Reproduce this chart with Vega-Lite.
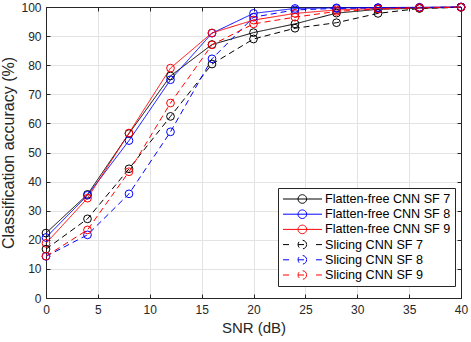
{
  "$schema": "https://vega.github.io/schema/vega-lite/v6.json",
  "width": 415,
  "height": 291,
  "autosize": "none",
  "padding": {"left": 46, "top": 7, "right": 10, "bottom": 44},
  "background": "white",
  "datasets": {
    "acc": [
      {"snr": 0, "acc": 22.3, "series": "Flatten-free CNN SF 7"},
      {"snr": 4, "acc": 35.6, "series": "Flatten-free CNN SF 7"},
      {"snr": 8, "acc": 56.5, "series": "Flatten-free CNN SF 7"},
      {"snr": 12, "acc": 76.3, "series": "Flatten-free CNN SF 7"},
      {"snr": 16, "acc": 87.1, "series": "Flatten-free CNN SF 7"},
      {"snr": 20, "acc": 91.2, "series": "Flatten-free CNN SF 7"},
      {"snr": 24, "acc": 94.2, "series": "Flatten-free CNN SF 7"},
      {"snr": 28, "acc": 97.9, "series": "Flatten-free CNN SF 7"},
      {"snr": 32, "acc": 99.2, "series": "Flatten-free CNN SF 7"},
      {"snr": 36, "acc": 99.6, "series": "Flatten-free CNN SF 7"},
      {"snr": 40, "acc": 99.9, "series": "Flatten-free CNN SF 7"},
      {"snr": 0, "acc": 20.8, "series": "Flatten-free CNN SF 8"},
      {"snr": 4, "acc": 35.3, "series": "Flatten-free CNN SF 8"},
      {"snr": 8, "acc": 54.1, "series": "Flatten-free CNN SF 8"},
      {"snr": 12, "acc": 75.0, "series": "Flatten-free CNN SF 8"},
      {"snr": 16, "acc": 91.0, "series": "Flatten-free CNN SF 8"},
      {"snr": 20, "acc": 97.8, "series": "Flatten-free CNN SF 8"},
      {"snr": 24, "acc": 99.5, "series": "Flatten-free CNN SF 8"},
      {"snr": 28, "acc": 99.7, "series": "Flatten-free CNN SF 8"},
      {"snr": 32, "acc": 99.8, "series": "Flatten-free CNN SF 8"},
      {"snr": 36, "acc": 99.9, "series": "Flatten-free CNN SF 8"},
      {"snr": 40, "acc": 100.0, "series": "Flatten-free CNN SF 8"},
      {"snr": 0, "acc": 18.8, "series": "Flatten-free CNN SF 9"},
      {"snr": 4, "acc": 34.3, "series": "Flatten-free CNN SF 9"},
      {"snr": 8, "acc": 56.7, "series": "Flatten-free CNN SF 9"},
      {"snr": 12, "acc": 79.0, "series": "Flatten-free CNN SF 9"},
      {"snr": 16, "acc": 91.1, "series": "Flatten-free CNN SF 9"},
      {"snr": 20, "acc": 95.5, "series": "Flatten-free CNN SF 9"},
      {"snr": 24, "acc": 97.8, "series": "Flatten-free CNN SF 9"},
      {"snr": 28, "acc": 99.0, "series": "Flatten-free CNN SF 9"},
      {"snr": 32, "acc": 99.5, "series": "Flatten-free CNN SF 9"},
      {"snr": 36, "acc": 99.8, "series": "Flatten-free CNN SF 9"},
      {"snr": 40, "acc": 100.0, "series": "Flatten-free CNN SF 9"},
      {"snr": 0, "acc": 16.8, "series": "Slicing CNN SF 7"},
      {"snr": 4, "acc": 27.2, "series": "Slicing CNN SF 7"},
      {"snr": 8, "acc": 44.4, "series": "Slicing CNN SF 7"},
      {"snr": 12, "acc": 62.4, "series": "Slicing CNN SF 7"},
      {"snr": 16, "acc": 80.4, "series": "Slicing CNN SF 7"},
      {"snr": 20, "acc": 89.0, "series": "Slicing CNN SF 7"},
      {"snr": 24, "acc": 92.7, "series": "Slicing CNN SF 7"},
      {"snr": 28, "acc": 94.6, "series": "Slicing CNN SF 7"},
      {"snr": 32, "acc": 97.8, "series": "Slicing CNN SF 7"},
      {"snr": 36, "acc": 99.5, "series": "Slicing CNN SF 7"},
      {"snr": 40, "acc": 99.9, "series": "Slicing CNN SF 7"},
      {"snr": 0, "acc": 14.3, "series": "Slicing CNN SF 8"},
      {"snr": 4, "acc": 21.7, "series": "Slicing CNN SF 8"},
      {"snr": 8, "acc": 35.8, "series": "Slicing CNN SF 8"},
      {"snr": 12, "acc": 57.1, "series": "Slicing CNN SF 8"},
      {"snr": 16, "acc": 82.2, "series": "Slicing CNN SF 8"},
      {"snr": 20, "acc": 96.5, "series": "Slicing CNN SF 8"},
      {"snr": 24, "acc": 99.0, "series": "Slicing CNN SF 8"},
      {"snr": 28, "acc": 99.5, "series": "Slicing CNN SF 8"},
      {"snr": 32, "acc": 99.7, "series": "Slicing CNN SF 8"},
      {"snr": 36, "acc": 99.8, "series": "Slicing CNN SF 8"},
      {"snr": 40, "acc": 100.0, "series": "Slicing CNN SF 8"},
      {"snr": 0, "acc": 14.4, "series": "Slicing CNN SF 9"},
      {"snr": 4, "acc": 23.4, "series": "Slicing CNN SF 9"},
      {"snr": 8, "acc": 43.4, "series": "Slicing CNN SF 9"},
      {"snr": 12, "acc": 67.0, "series": "Slicing CNN SF 9"},
      {"snr": 16, "acc": 87.0, "series": "Slicing CNN SF 9"},
      {"snr": 20, "acc": 94.2, "series": "Slicing CNN SF 9"},
      {"snr": 24, "acc": 96.5, "series": "Slicing CNN SF 9"},
      {"snr": 28, "acc": 98.5, "series": "Slicing CNN SF 9"},
      {"snr": 32, "acc": 99.3, "series": "Slicing CNN SF 9"},
      {"snr": 36, "acc": 99.7, "series": "Slicing CNN SF 9"},
      {"snr": 40, "acc": 99.9, "series": "Slicing CNN SF 9"}
    ]
  },
  "data": {"name": "acc"},
  "config": {
    "font": "Liberation Sans",
    "view": {"stroke": "#262626", "strokeWidth": 1},
    "axis": {
      "labelFont": "Liberation Sans",
      "titleFont": "Liberation Sans",
      "labelFontSize": 12,
      "titleFontSize": 15,
      "titleFontWeight": "normal",
      "labelColor": "#262626",
      "titleColor": "#262626",
      "domainColor": "#262626",
      "tickColor": "#262626",
      "gridColor": "#e3e3e3",
      "gridOpacity": 1,
      "tickSize": -4
    },
    "legend": {
      "orient": "none",
      "legendX": 232,
      "legendY": 181,
      "symbolType": "M-0.92,0H5.08M2.71,0A0.66,0.66,0,1,1,1.39,0A0.66,0.66,0,1,1,2.71,0",
      "symbolSize": 169,
      "symbolStrokeWidth": 1,
      "symbolFillColor": "transparent",
      "labelFontSize": 12.6,
      "labelFont": "Liberation Sans",
      "labelColor": "#000000",
      "labelOffset": 29,
      "rowPadding": 1.2,
      "padding": 4,
      "strokeColor": "#262626",
      "fillColor": "white",
      "cornerRadius": 0,
      "labelLimit": 300
    }
  },
  "layer": [
    {
      "mark": {"type": "line", "strokeWidth": 1},
      "encoding": {
        "x": {"field": "snr", "type": "quantitative", "title": "SNR (dB)",
          "scale": {"domain": [0, 40], "nice": false},
          "axis": {"orient": "bottom", "values": [0, 5, 10, 15, 20, 25, 30, 35, 40], "labelPadding": 10, "titlePadding": 5, "labelFlush": false}},
        "y": {"field": "acc", "type": "quantitative", "title": "Classification accuracy (%)",
          "scale": {"domain": [0, 100], "nice": false},
          "axis": {"orient": "left", "values": [0, 10, 20, 30, 40, 50, 60, 70, 80, 90, 100], "labelPadding": 9, "titlePadding": 4, "titleFontSize": 16, "labelFlush": false}},
        "color": {"field": "series", "type": "nominal", "title": null,
          "scale": {"domain": ["Flatten-free CNN SF 7", "Flatten-free CNN SF 8", "Flatten-free CNN SF 9", "Slicing CNN SF 7", "Slicing CNN SF 8", "Slicing CNN SF 9"],
            "range": ["#000000", "#0000ff", "#ff0000", "#000000", "#0000ff", "#ff0000"]},
          "legend": {"encode": {"symbols": {"update": {
            "fill": {"value": "transparent"},
            "shape": {"signal": "indexof(datum.value, 'Slicing') >= 0 ? 'M-0.92,0H0.15M1.39,0H2.71M4.15,0H5.08M2.71,0A0.66,0.66,0,1,1,1.39,0A0.66,0.66,0,1,1,2.71,0' : 'M-0.92,0H5.08M2.71,0A0.66,0.66,0,1,1,1.39,0A0.66,0.66,0,1,1,2.71,0'"}
          }}}}},
        "strokeDash": {"field": "series", "type": "nominal", "title": null,
          "scale": {"domain": ["Flatten-free CNN SF 7", "Flatten-free CNN SF 8", "Flatten-free CNN SF 9", "Slicing CNN SF 7", "Slicing CNN SF 8", "Slicing CNN SF 9"],
            "range": [[1, 0], [1, 0], [1, 0], [6, 4], [6, 4], [6, 4]]},
          "legend": null}
      }
    },
    {
      "mark": {"type": "point", "shape": "circle", "filled": false, "size": 60, "strokeWidth": 1, "opacity": 1},
      "encoding": {
        "x": {"field": "snr", "type": "quantitative",
          "axis": {"orient": "top", "values": [0, 5, 10, 15, 20, 25, 30, 35, 40], "labels": false, "title": null, "grid": false}},
        "y": {"field": "acc", "type": "quantitative",
          "axis": {"orient": "right", "values": [0, 10, 20, 30, 40, 50, 60, 70, 80, 90, 100], "labels": false, "title": null, "grid": false}},
        "color": {"field": "series", "type": "nominal", "title": null}
      }
    }
  ],
  "resolve": {"axis": {"x": "independent", "y": "independent"}}
}
